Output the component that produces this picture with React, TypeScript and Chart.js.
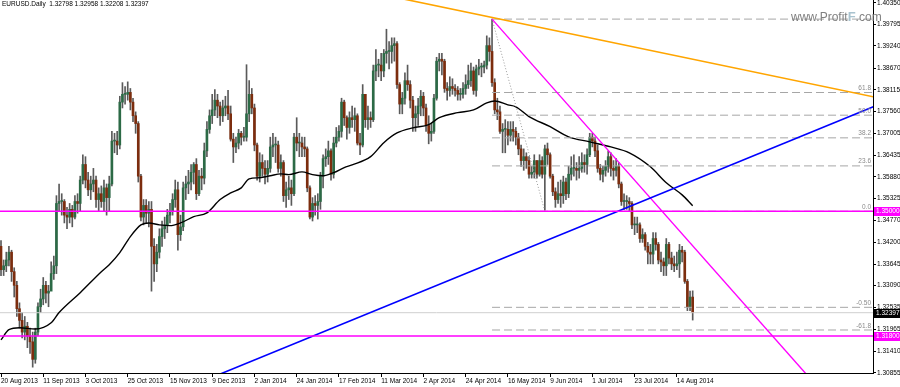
import React, { useEffect, useRef } from "react";
import { Chart, registerables } from "chart.js";

Chart.register(...registerables);

// ---------- DATA ----------
const symbolTitle = "EURUSD.Daily  1.32798 1.32958 1.32208 1.32397";
const watermark = ["www.Profit", "F", ".com"];

const firstOpen = 1.341;
const closes = [
  1.3350, 1.3360, 1.3375, 1.3395, 1.3345, 1.3310, 1.3250, 1.3220, 1.3190, 1.3205,
  1.3180, 1.3165, 1.3120, 1.3190, 1.3255, 1.3275, 1.3310, 1.3290, 1.3295, 1.3340,
  1.3360, 1.3520, 1.3525, 1.3525, 1.3490, 1.3485, 1.3505, 1.3485, 1.3525, 1.3520,
  1.3580, 1.3620, 1.3580, 1.3555, 1.3570, 1.3580, 1.3530, 1.3545, 1.3525, 1.3560,
  1.3535, 1.3570, 1.3680, 1.3680, 1.3670, 1.3780, 1.3800, 1.3800, 1.3805, 1.3780,
  1.3745, 1.3725, 1.3590, 1.3485, 1.3515, 1.3495, 1.3505, 1.3410, 1.3365, 1.3395,
  1.3435, 1.3455, 1.3465, 1.3490, 1.3500, 1.3530, 1.3555, 1.3440, 1.3460, 1.3560,
  1.3570, 1.3575, 1.3600, 1.3620, 1.3545, 1.3590, 1.3585, 1.3655, 1.3710, 1.3745,
  1.3760, 1.3785, 1.3770, 1.3745, 1.3765, 1.3770, 1.3750, 1.3685, 1.3665, 1.3675,
  1.3700, 1.3690, 1.3690, 1.3750, 1.3800, 1.3765, 1.3670, 1.3590, 1.3625, 1.3610,
  1.3595, 1.3610, 1.3665, 1.3670, 1.3670, 1.3610, 1.3625, 1.3540, 1.3555, 1.3560,
  1.3545, 1.3690, 1.3675, 1.3675, 1.3665, 1.3660, 1.3560, 1.3485, 1.3520, 1.3515,
  1.3525, 1.3590, 1.3635, 1.3640, 1.3655, 1.3595, 1.3675, 1.3690, 1.3705, 1.3780,
  1.3740, 1.3715, 1.3740, 1.3735, 1.3745, 1.3675, 1.3670, 1.3800, 1.3735, 1.3740,
  1.3735, 1.3860, 1.3875, 1.3875, 1.3860, 1.3905, 1.3910, 1.3910, 1.3925, 1.3930,
  1.3825, 1.3775, 1.3790, 1.3835, 1.3825, 1.3785, 1.3740, 1.3750, 1.3770, 1.3795,
  1.3765, 1.3720, 1.3700, 1.3705, 1.3790, 1.3885, 1.3890, 1.3885, 1.3815, 1.3810,
  1.3820, 1.3815, 1.3810, 1.3800, 1.3800, 1.3815, 1.3825, 1.3835, 1.3860, 1.3810,
  1.3865, 1.3870, 1.3870, 1.3875, 1.3925, 1.3910, 1.3830, 1.3760, 1.3755, 1.3705,
  1.3710, 1.3710, 1.3695, 1.3710, 1.3705, 1.3690, 1.3660, 1.3630, 1.3640, 1.3630,
  1.3595, 1.3600, 1.3630, 1.3595, 1.3630, 1.3595, 1.3660, 1.3645, 1.3590, 1.3550,
  1.3530, 1.3545, 1.3540, 1.3575, 1.3545, 1.3595, 1.3610, 1.3610, 1.3605, 1.3610,
  1.3625, 1.3620, 1.3645, 1.3690, 1.3680, 1.3655, 1.3610, 1.3595, 1.3605, 1.3615,
  1.3640, 1.3610, 1.3605, 1.3615, 1.3570, 1.3525, 1.3525, 1.3525, 1.3520, 1.3465,
  1.3465, 1.3465, 1.3430, 1.3440, 1.3410, 1.3395, 1.3390, 1.3430, 1.3415, 1.3375,
  1.3370, 1.3360, 1.3415, 1.3380, 1.3365, 1.3360, 1.3365, 1.3400, 1.3395, 1.3320,
  1.3255, 1.32798, 1.32397,
];
const highs = [
  1.3425, 1.3375, 1.3395, 1.3410, 1.3400, 1.3355, 1.3320, 1.3265, 1.3240, 1.3230,
  1.3215, 1.3200, 1.3190, 1.3200, 1.3265, 1.3300, 1.3330, 1.3320, 1.3310, 1.3370,
  1.3385, 1.3540, 1.3570, 1.3545, 1.3530, 1.3510, 1.3520, 1.3515, 1.3540, 1.3545,
  1.3590, 1.3645, 1.3640, 1.3600, 1.3590, 1.3610, 1.3590, 1.3560, 1.3565, 1.3580,
  1.3570, 1.3590, 1.3705, 1.3700, 1.3705, 1.3795, 1.3830, 1.3820, 1.3832, 1.3815,
  1.3790, 1.3755, 1.3730, 1.3595, 1.3530, 1.3530, 1.3525, 1.3525, 1.3430, 1.3415,
  1.3455, 1.3475, 1.3485, 1.3505, 1.3520, 1.3545, 1.3580, 1.3575, 1.3490, 1.3575,
  1.3590, 1.3605, 1.3620, 1.3625, 1.3635, 1.3605, 1.3610, 1.3675, 1.3730, 1.3760,
  1.3800, 1.3812, 1.3800, 1.3780, 1.3785, 1.3795, 1.3810, 1.3770, 1.3700, 1.3690,
  1.3710, 1.3705, 1.3715, 1.3876, 1.3835, 1.3815, 1.3775, 1.3675, 1.3650, 1.3645,
  1.3630, 1.3630, 1.3690, 1.3700, 1.3690, 1.3680, 1.3645, 1.3630, 1.3575, 1.3590,
  1.3580, 1.3700, 1.3740, 1.3700, 1.3690, 1.3690, 1.3665, 1.3565, 1.3535, 1.3540,
  1.3545, 1.3600, 1.3645, 1.3660, 1.3680, 1.3660, 1.3690, 1.3715, 1.3720, 1.3790,
  1.3785, 1.3745, 1.3755, 1.3770, 1.3765, 1.3750, 1.3700, 1.3825, 1.3800, 1.3770,
  1.3755, 1.3875, 1.3915, 1.3890, 1.3905, 1.3915, 1.3967, 1.3935, 1.3945, 1.3945,
  1.3935, 1.3830, 1.3805, 1.3855, 1.3875, 1.3835, 1.3795, 1.3770, 1.3790, 1.3810,
  1.3805, 1.3775, 1.3745, 1.3725, 1.3800, 1.3895, 1.3905, 1.3905, 1.3890, 1.3830,
  1.3845, 1.3840, 1.3825, 1.3820, 1.3815, 1.3830, 1.3850, 1.3875, 1.3880, 1.3870,
  1.3875, 1.3890, 1.3880, 1.3885, 1.3950, 1.3945, 1.3993, 1.3840, 1.3790, 1.3770,
  1.3725, 1.3735, 1.3730, 1.3730, 1.3730, 1.3715, 1.3700, 1.3670, 1.3660, 1.3650,
  1.3640, 1.3615, 1.3645, 1.3630, 1.3645, 1.3640, 1.3670, 1.3675, 1.3650, 1.3595,
  1.3560, 1.3575, 1.3580, 1.3590, 1.3585, 1.3615, 1.3640, 1.3645, 1.3625, 1.3640,
  1.3650, 1.3645, 1.3660, 1.3700, 1.3700, 1.3690, 1.3670, 1.3620, 1.3615, 1.3630,
  1.3655, 1.3650, 1.3630, 1.3635, 1.3625, 1.3575, 1.3545, 1.3540, 1.3535, 1.3525,
  1.3485, 1.3485, 1.3470, 1.3455, 1.3445, 1.3420, 1.3415, 1.3445, 1.3445, 1.3420,
  1.3395, 1.3380, 1.3430, 1.3420, 1.3395, 1.3385, 1.3395, 1.3415, 1.3410, 1.3400,
  1.3325, 1.3295, 1.32958,
];
const lows = [
  1.3335, 1.3335, 1.3345, 1.3360, 1.3320, 1.3280, 1.3230, 1.3200, 1.3175, 1.3170,
  1.3150, 1.3135, 1.3100, 1.3110, 1.3180, 1.3240, 1.3260, 1.3265, 1.3255, 1.3300,
  1.3325, 1.3340, 1.3500, 1.3490, 1.3470, 1.3455, 1.3470, 1.3460, 1.3480, 1.3495,
  1.3500, 1.3570, 1.3560, 1.3540, 1.3530, 1.3550, 1.3510, 1.3500, 1.3510, 1.3500,
  1.3490, 1.3500, 1.3565, 1.3650, 1.3645, 1.3660, 1.3765, 1.3775, 1.3785, 1.3760,
  1.3730, 1.3700, 1.3575, 1.3475, 1.3465, 1.3470, 1.3460, 1.3295, 1.3320, 1.3345,
  1.3380, 1.3410, 1.3430, 1.3445, 1.3470, 1.3490, 1.3510, 1.3400, 1.3425, 1.3450,
  1.3530, 1.3545, 1.3555, 1.3570, 1.3530, 1.3540, 1.3555, 1.3570, 1.3640, 1.3700,
  1.3725, 1.3745, 1.3740, 1.3720, 1.3730, 1.3745, 1.3735, 1.3680, 1.3625, 1.3650,
  1.3660, 1.3670, 1.3680, 1.3680, 1.3730, 1.3750, 1.3655, 1.3580, 1.3575, 1.3590,
  1.3570, 1.3575, 1.3600, 1.3640, 1.3625, 1.3600, 1.3590, 1.3525, 1.3510, 1.3530,
  1.3515, 1.3540, 1.3655, 1.3640, 1.3640, 1.3640, 1.3550, 1.3480, 1.3475, 1.3490,
  1.3480, 1.3505, 1.3560, 1.3615, 1.3620, 1.3580, 1.3585, 1.3665, 1.3680, 1.3690,
  1.3720, 1.3685, 1.3700, 1.3715, 1.3705, 1.3670, 1.3645, 1.3665, 1.3715, 1.3710,
  1.3715, 1.3730, 1.3835, 1.3845, 1.3835, 1.3845, 1.3880, 1.3865, 1.3880, 1.3885,
  1.3815, 1.3750, 1.3750, 1.3775, 1.3810, 1.3765, 1.3705, 1.3705, 1.3720, 1.3745,
  1.3745, 1.3705, 1.3673, 1.3680, 1.3700, 1.3785, 1.3860, 1.3850, 1.3805, 1.3785,
  1.3795, 1.3800, 1.3795, 1.3785, 1.3785, 1.3790, 1.3800, 1.3815, 1.3820, 1.3800,
  1.3795, 1.3850, 1.3845, 1.3855, 1.3865, 1.3885, 1.3820, 1.3750, 1.3735, 1.3700,
  1.3650, 1.3650, 1.3670, 1.3680, 1.3680, 1.3670, 1.3645, 1.3615, 1.3605, 1.3610,
  1.3585, 1.3585, 1.3585, 1.3585, 1.3590, 1.3585, 1.3503, 1.3620, 1.3585, 1.3540,
  1.3510, 1.3520, 1.3510, 1.3520, 1.3530, 1.3535, 1.3580, 1.3590, 1.3580, 1.3585,
  1.3600, 1.3600, 1.3595, 1.3640, 1.3665, 1.3640, 1.3600, 1.3580, 1.3575, 1.3590,
  1.3600, 1.3590, 1.3580, 1.3590, 1.3560, 1.3515, 1.3505, 1.3505, 1.3500, 1.3455,
  1.3440, 1.3445, 1.3420, 1.3420, 1.3400, 1.3365, 1.3365, 1.3365, 1.3400, 1.3365,
  1.3345, 1.3335, 1.3335, 1.3365, 1.3350, 1.3345, 1.3350, 1.3330, 1.3370, 1.3315,
  1.3245, 1.3245, 1.32208,
];
const opens = [firstOpen, ...closes.slice(0, -1)];

// moving average (read at sampled bars)
const maBars = [0, 3, 7, 13, 19, 22, 30, 38, 41, 45, 49, 53, 56, 60, 64, 68, 73, 78, 83, 87, 91, 94, 98, 102, 106, 109, 114, 118, 122, 126, 130, 133, 140, 145, 150, 156, 162, 166, 173, 179, 184, 187, 192, 195, 200, 208, 215, 223, 231, 238, 246, 252, 258, 262];
const maValues = [1.3170, 1.3196, 1.3201, 1.3198, 1.3214, 1.3240, 1.3291, 1.3345, 1.3363, 1.3394, 1.3435, 1.3465, 1.3470, 1.3465, 1.3463, 1.3470, 1.3486, 1.3496, 1.3530, 1.3547, 1.3560, 1.3583, 1.3586, 1.3591, 1.3596, 1.3594, 1.3601, 1.3594, 1.3591, 1.3599, 1.3612, 1.3619, 1.3640, 1.3676, 1.3701, 1.3714, 1.3722, 1.3740, 1.3753, 1.3760, 1.3778, 1.3783, 1.3773, 1.3768, 1.3743, 1.3717, 1.3691, 1.3678, 1.3665, 1.3650, 1.3614, 1.3573, 1.3542, 1.3514];

// x axis labels (every 16 bars)
const dateLabels = ["20 Aug 2013", "11 Sep 2013", "3 Oct 2013", "25 Oct 2013", "15 Nov 2013", "9 Dec 2013", "2 Jan 2014", "24 Jan 2014", "17 Feb 2014", "11 Mar 2014", "2 Apr 2014", "24 Apr 2014", "16 May 2014", "9 Jun 2014", "1 Jul 2014", "23 Jul 2014", "14 Aug 2014"];
const dateLabelBars = [0, 16, 32, 48, 64, 80, 96, 112, 128, 144, 160, 176, 192, 208, 224, 240, 256];
const priceTicks = [1.30855, 1.3141, 1.31965, 1.32535, 1.3309, 1.33645, 1.342, 1.3477, 1.35325, 1.3588, 1.36435, 1.37005, 1.3756, 1.38115, 1.3867, 1.3924, 1.39795, 1.4035];

// drawn objects
const orangeBars = [150, 335];
const orangePrices = [1.4048, 1.3787];
const blueBars = [80, 335];
const bluePrices = [1.3074, 1.3781];
const magentaBars = [186, 310];
const magentaPrices = [1.3993, 1.3044];
const levelLines = [1.35, 1.318];
const currentPrice = 1.32397;
const fibBars = [186, 206];
const fibHigh = 1.3993;
const fibLow = 1.35;
const fibLevels = [100, 61.8, 50, 38.2, 23.6, 0, -50, -61.8];
const fibLabels = ["", "61.8", "50.0", "38.2", "23.6", "0.0", "-0.50", "-61.8"];

const X_MIN = -0.38;
const X_MAX = 330.3;
const Y_MIN = 1.3085;
const Y_MAX = 1.4042;

const FONT = "'Liberation Sans', Arial, sans-serif";
const BULL = "#2c6a46";
const BEAR = "#7c2d0e";

const overlayPlugin = {
  id: "overlay",
  afterDraw(chart: any) {
    const { ctx, chartArea, scales } = chart;
    const ys = scales.y;
    ctx.save();
    // fib labels
    ctx.font = `6.5px ${FONT}`;
    ctx.fillStyle = "#8a8a8a";
    ctx.textAlign = "right";
    ctx.textBaseline = "bottom";
    fibLevels.forEach((lv, k) => {
      if (!fibLabels[k]) return;
      const p = fibLow + ((fibHigh - fibLow) * lv) / 100;
      ctx.fillText(fibLabels[k], chartArea.right - 2, ys.getPixelForValue(p) - 1);
    });
    // price boxes on axis
    const box = (val: number, bg: string, fg: string) => {
      const py = Math.round(ys.getPixelForValue(val));
      ctx.fillStyle = bg;
      ctx.fillRect(chartArea.right + 1, py - 4, 27, 9);
      ctx.fillStyle = fg;
      ctx.textAlign = "left";
      ctx.textBaseline = "middle";
      ctx.font = `6.5px ${FONT}`;
      ctx.fillText(val.toFixed(5), chartArea.right + 3, py + 0.5);
    };
    box(levelLines[0], "#ff00ff", "#ffffff");
    box(levelLines[1], "#ff00ff", "#ffffff");
    box(currentPrice, "#000000", "#ffffff");
    // title
    ctx.font = `6.5px ${FONT}`;
    ctx.fillStyle = "#000";
    ctx.textAlign = "left";
    ctx.textBaseline = "top";
    ctx.fillText(symbolTitle, 2, 1);
    // watermark
    ctx.font = `12px ${FONT}`;
    ctx.textBaseline = "alphabetic";
    let wx = 791;
    const wy = 21;
    ctx.fillStyle = "#808080";
    ctx.fillText(watermark[0], wx, wy);
    wx += ctx.measureText(watermark[0]).width;
    ctx.fillStyle = "#a9c3cf";
    ctx.font = `bold 13px ${FONT}`;
    ctx.fillText(watermark[1], wx, wy);
    wx += ctx.measureText(watermark[1]).width;
    ctx.fillStyle = "#808080";
    ctx.font = `12px ${FONT}`;
    ctx.fillText(watermark[2], wx, wy);
    ctx.restore();
  },
};

function seg(bars: number[], prices: number[]) {
  return bars.map((b, i) => ({ x: b, y: prices[i] }));
}

export default function App() {
  const ref = useRef<HTMLCanvasElement | null>(null);
  useEffect(() => {
    if (!ref.current) return;
    const bodies = closes.map((c, i) => ({ x: i, y: [opens[i], c] }));
    const wicks = closes.map((_, i) => ({ x: i, y: [lows[i], highs[i]] }));
    const colors = closes.map((c, i) => (c >= opens[i] ? BULL : BEAR));
    const fibSets = fibLevels.map((lv) => {
      const p = fibLow + ((fibHigh - fibLow) * lv) / 100;
      return {
        type: "line",
        data: [
          { x: fibBars[0], y: p },
          { x: X_MAX + 2, y: p },
        ],
        borderColor: "#a6a6a6",
        borderWidth: 1,
        borderDash: [8, 4],
        pointRadius: 0,
        order: 4,
      };
    });
    const chart = new Chart(ref.current, {
      type: "bar",
      data: {
        datasets: [
          {
            type: "bar",
            data: wicks,
            backgroundColor: "#5a5a5a",
            barThickness: 1,
            grouped: false,
            order: 10,
          },
          {
            type: "bar",
            data: bodies,
            backgroundColor: colors,
            barThickness: 2,
            minBarLength: 1,
            grouped: false,
            order: 9,
          },
          {
            type: "line",
            data: [
              { x: X_MIN - 2, y: currentPrice },
              { x: X_MAX + 2, y: currentPrice },
            ],
            borderColor: "#cfcfcf",
            borderWidth: 1,
            pointRadius: 0,
            order: 8,
          },
          {
            type: "line",
            data: seg(maBars, maValues),
            borderColor: "#000000",
            borderWidth: 1.4,
            pointRadius: 0,
            cubicInterpolationMode: "monotone",
            order: 5,
          },
          ...fibSets,
          {
            type: "line",
            data: seg(fibBars, [fibHigh, fibLow]),
            borderColor: "#9a9a9a",
            borderWidth: 1,
            borderDash: [1, 2],
            pointRadius: 0,
            order: 4,
          },
          {
            type: "line",
            data: seg(orangeBars, orangePrices),
            borderColor: "#ffa500",
            borderWidth: 1.6,
            pointRadius: 0,
            order: 2,
          },
          {
            type: "line",
            data: seg(blueBars, bluePrices),
            borderColor: "#0000ff",
            borderWidth: 1.6,
            pointRadius: 0,
            order: 2,
          },
          {
            type: "line",
            data: seg(magentaBars, magentaPrices),
            borderColor: "#ff00ff",
            borderWidth: 1.4,
            pointRadius: 0,
            order: 2,
          },
          ...levelLines.map((lv) => ({
            type: "line",
            data: [
              { x: X_MIN - 2, y: lv },
              { x: X_MAX + 2, y: lv },
            ],
            borderColor: "#ff00ff",
            borderWidth: 1.5,
            pointRadius: 0,
            order: 1,
          })),
        ] as any,
      },
      options: {
        animation: false,
        responsive: true,
        maintainAspectRatio: false,
        layout: { padding: 0 },
        plugins: { legend: { display: false }, tooltip: { enabled: false } },
        scales: {
          x: {
            type: "linear",
            min: X_MIN,
            max: X_MAX,
            offset: false,
            grid: { display: true, drawOnChartArea: false, drawTicks: true, tickLength: 4, color: "#000", offset: false },
            border: { display: true, color: "#000" },
            afterBuildTicks: (scale: any) => {
              scale.ticks = dateLabelBars.map((b) => ({ value: b }));
            },
            afterFit: (scale: any) => {
              scale.height = 14;
              scale.paddingLeft = 0;
              scale.paddingRight = 0;
            },
            ticks: {
              autoSkip: false,
              maxRotation: 0,
              minRotation: 0,
              align: "start",
              padding: 0,
              color: "#000",
              font: { family: FONT, size: 6.5 },
              callback: (v: any) => {
                const k = dateLabelBars.indexOf(Math.round(Number(v)));
                return k >= 0 ? dateLabels[k] : "";
              },
            },
          },
          y: {
            type: "linear",
            position: "right",
            min: Y_MIN,
            max: Y_MAX,
            grid: { display: true, drawOnChartArea: false, drawTicks: true, tickLength: 3, color: "#000" },
            border: { display: true, color: "#000" },
            afterBuildTicks: (scale: any) => {
              scale.ticks = priceTicks.map((v) => ({ value: v }));
            },
            afterFit: (scale: any) => {
              scale.width = 27;
              scale.paddingTop = 0;
              scale.paddingBottom = 0;
            },
            ticks: {
              autoSkip: false,
              padding: 1,
              color: "#000",
              font: { family: FONT, size: 6.5 },
              callback: (v: any) => Number(v).toFixed(5),
            },
          },
        },
      } as any,
      plugins: [overlayPlugin],
    });
    return () => chart.destroy();
  }, []);

  return (
    <div style={{ position: "absolute", left: 0, top: 0, width: 900, height: 387, background: "#fff" }}>
      <canvas ref={ref} />
    </div>
  );
}
